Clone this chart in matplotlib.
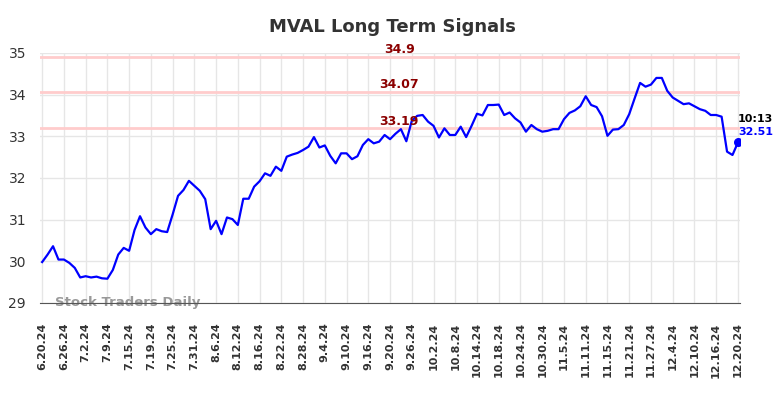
import matplotlib
matplotlib.use("Agg")
import matplotlib.pyplot as plt
import numpy as np

# -----------------------------
# data
# -----------------------------
tick_labels = ["6.20.24", "6.26.24", "7.2.24", "7.9.24", "7.15.24", "7.19.24", "7.25.24",
               "7.31.24", "8.6.24", "8.12.24", "8.16.24", "8.22.24", "8.28.24", "9.4.24",
               "9.10.24", "9.16.24", "9.20.24", "9.26.24", "10.2.24", "10.8.24", "10.14.24",
               "10.18.24", "10.24.24", "10.30.24", "11.5.24", "11.11.24", "11.15.24",
               "11.21.24", "11.27.24", "12.4.24", "12.10.24", "12.16.24", "12.20.24"]

prices = [29.98, 30.16, 30.36, 30.04, 30.04, 29.96, 29.84, 29.61, 29.64, 29.61,
          29.63, 29.59, 29.58, 29.79, 30.16, 30.32, 30.25, 30.75, 31.08, 30.81,
          30.65, 30.77, 30.72, 30.70, 31.12, 31.57, 31.71, 31.93, 31.81, 31.69,
          31.49, 30.77, 30.97, 30.65, 31.05, 31.01, 30.87, 31.50, 31.50, 31.79,
          31.92, 32.11, 32.05, 32.27, 32.17, 32.51, 32.56, 32.60, 32.67, 32.75,
          32.98, 32.73, 32.78, 32.53, 32.35, 32.59, 32.59, 32.45, 32.52, 32.79,
          32.93, 32.83, 32.87, 33.03, 32.93, 33.06, 33.17, 32.88, 33.37, 33.49,
          33.51, 33.35, 33.25, 32.97, 33.19, 33.03, 33.03, 33.23, 32.98, 33.25,
          33.54, 33.50, 33.75, 33.75, 33.76, 33.51, 33.57, 33.43, 33.33, 33.11,
          33.27, 33.17, 33.11, 33.13, 33.17, 33.17, 33.41, 33.56, 33.62, 33.72,
          33.96, 33.75, 33.70, 33.48, 33.01, 33.16, 33.17, 33.27, 33.53, 33.91,
          34.28, 34.19, 34.24, 34.40, 34.40, 34.09, 33.93, 33.85, 33.77, 33.79,
          33.72, 33.65, 33.61, 33.51, 33.51, 33.47, 32.63, 32.55, 32.85]

levels = [34.9, 34.07, 33.19]
level_labels = ["34.9", "34.07", "33.19"]
last_time = "10:13"
last_price = "32.51"

# -----------------------------
# figure
# -----------------------------
fig = plt.figure(figsize=(7.84, 3.98), dpi=100)
ax = fig.add_axes([0.051, 0.239, 0.893, 0.628])

x = np.arange(len(prices))
ax.plot(x, prices, color="#0000ff", lw=1.6, zorder=3)
ax.scatter([x[-1]], [prices[-1]], color="#0000ff", s=30, zorder=4)

mid = (len(prices) - 1) / 2 + 1.7
for lvl, lab in zip(levels, level_labels):
    ax.axhline(lvl, color="#ffcccc", lw=2, zorder=2)
    ax.text(mid, lvl + 0.02, lab, color="#8b0000", fontsize=9, fontweight="bold",
            ha="center", va="bottom", zorder=5)

ax.text(x[-1] + 0.0, prices[-1] + 0.45, last_time, color="black", fontsize=8,
        fontweight="bold", ha="left", va="bottom")
ax.text(x[-1] + 0.0, prices[-1] + 0.12, last_price, color="#0000ff", fontsize=8,
        fontweight="bold", ha="left", va="bottom")

ax.text(2.3, 29.0, "Stock Traders Daily", color="#999999", fontsize=9.5,
        fontweight="bold", ha="left", va="center", zorder=1)

ax.set_xlim(-0.4, len(prices) - 0.6)
ax.set_ylim(29, 35)
ax.set_yticks([29, 30, 31, 32, 33, 34, 35])
ax.set_xticks(x[::4])
ax.set_xticklabels(tick_labels, rotation=90, fontsize=8, fontweight="bold", color="#333333")
ax.tick_params(axis="y", labelsize=10, colors="#333333", length=0, pad=10)
ax.tick_params(axis="x", length=0, pad=14)

ax.grid(True, color="#e6e6e6", lw=1)
ax.set_axisbelow(True)
for side in ["top", "right", "left"]:
    ax.spines[side].set_visible(False)
ax.spines["bottom"].set_color("#555555")

fig.suptitle("MVAL Long Term Signals", fontsize=13, fontweight="bold", color="#333333", y=0.955)

fig.savefig("out.png", dpi=100)
